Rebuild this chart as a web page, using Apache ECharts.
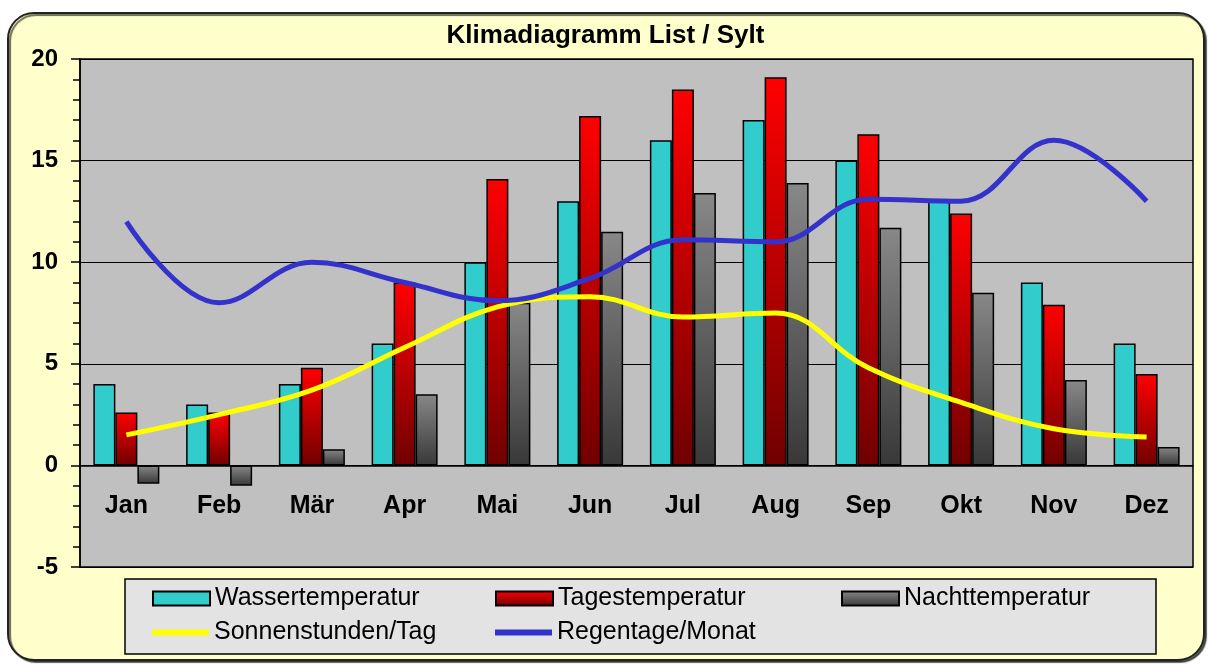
<!DOCTYPE html>
<html>
<head>
<meta charset="utf-8">
<script src="https://cdn.jsdelivr.net/npm/echarts@6/dist/echarts.min.js"></script>
<style>
  html, body { margin: 0; padding: 0; background: #fff; }
  #chart { width: 1211px; height: 665px; }
</style>
</head>
<body>
<div id="chart"></div>
<script>
var months = ['Jan', 'Feb', 'Mär', 'Apr', 'Mai', 'Jun', 'Jul', 'Aug', 'Sep', 'Okt', 'Nov', 'Dez'];
var wasser = [4, 3, 4, 6, 10, 13, 16, 17, 15, 13, 9, 6];
var tages = [2.6, 2.6, 4.8, 9, 14.1, 17.2, 18.5, 19.1, 16.3, 12.4, 7.9, 4.5];
var nacht = [-0.9, -1, 0.8, 3.5, 8, 11.5, 13.4, 13.9, 11.7, 8.5, 4.2, 0.9];
var sonne = [1.5, 2.5, 3.7, 5.8, 7.8, 8.3, 7.3, 7.5, 4.8, 3.1, 1.8, 1.4];
var regen = [12, 8, 10, 9, 8.1, 9.2, 11.1, 11, 13.1, 13, 16, 13];

var font = "'Liberation Sans', Arial, sans-serif";

var chart = echarts.init(document.getElementById('chart'));

function grad(top, bottom) {
  return new echarts.graphic.LinearGradient(0, 0, 0, 1, [
    { offset: 0, color: top },
    { offset: 1, color: bottom }
  ]);
}

// ein Legenden-Eintrag pro Komponente, damit die Spalten fest stehen
function legendItem(name, left, top, h) {
  return {
    data: [{ name: name, icon: 'rect' }],
    left: left, top: top, padding: 0,
    itemWidth: 57, itemHeight: h,
    textStyle: { fontFamily: font, fontSize: 25, color: '#000' }
  };
}

var option = {
  animation: false,
  textStyle: { fontFamily: font },
  graphic: [
    {
      type: 'rect', z: -10,
      shape: { x: 8, y: 13, width: 1196, height: 647, r: 26 },
      style: { fill: '#FFFFCC', stroke: '#222', lineWidth: 2,
        shadowColor: 'rgba(0,0,0,0.6)', shadowOffsetX: 2, shadowOffsetY: 2, shadowBlur: 1 }
    },
    {
      type: 'rect', z: -9,
      shape: { x: 125, y: 579, width: 1031, height: 75 },
      style: { fill: '#E3E3E3', stroke: '#000', lineWidth: 1.5 }
    }
  ],
  title: {
    text: 'Klimadiagramm List / Sylt',
    left: 'center',
    top: 23,
    padding: 0,
    textStyle: { fontFamily: font, fontSize: 26, fontWeight: 'bold', color: '#000' }
  },
  legend: [
    legendItem('Wassertemperatur', 152, 586, 14),
    legendItem('Tagestemperatur', 495, 586, 14),
    legendItem('Nachttemperatur', 841, 586, 14),
    legendItem('Sonnenstunden/Tag', 152, 620, 6),
    legendItem('Regentage/Monat', 495, 620, 6)
  ],
  grid: {
    left: 80, right: 18, top: 59, bottom: 98,
    show: true, backgroundColor: '#C0C0C0',
    borderColor: '#000', borderWidth: 1.5
  },
  xAxis: {
    type: 'category',
    data: months,
    offset: -101.6,
    axisLine: { onZero: true, onZeroAxisIndex: 0, lineStyle: { color: '#000', width: 1.5 } },
    axisTick: { length: 9, lineStyle: { color: '#000', width: 1.5 } },
    axisLabel: { margin: 28, fontFamily: font, fontSize: 25, fontWeight: 'bold', color: '#000' },
    splitLine: { show: false }
  },
  yAxis: {
    type: 'value',
    min: -5, max: 20, interval: 5,
    axisLine: { show: true, lineStyle: { color: '#000', width: 1.5 } },
    axisTick: { show: true, length: 9, lineStyle: { color: '#000', width: 1.5 } },
    minorTick: { show: true, splitNumber: 5, length: 7, lineStyle: { color: '#000', width: 1.5 } },
    axisLabel: { margin: 22, fontFamily: font, fontSize: 24, fontWeight: 'bold', color: '#000' },
    splitLine: { show: true, lineStyle: { color: '#000', width: 1.2 } }
  },
  series: [
    {
      name: 'Wassertemperatur', type: 'bar', data: wasser,
      barWidth: 22, barGap: '0%',
      itemStyle: { color: '#33CCCC', borderColor: '#000', borderWidth: 1.5 }
    },
    {
      name: 'Tagestemperatur', type: 'bar', data: tages,
      barWidth: 22, barGap: '0%',
      itemStyle: { color: grad('#FF0000', '#700000'), borderColor: '#000', borderWidth: 1.5 }
    },
    {
      name: 'Nachttemperatur', type: 'bar', data: nacht,
      barWidth: 22, barGap: '0%',
      itemStyle: { color: grad('#888888', '#383838'), borderColor: '#000', borderWidth: 1.5 }
    },
    {
      name: 'Sonnenstunden/Tag', type: 'line', data: sonne,
      smooth: 0.4, symbol: 'none',
      lineStyle: { color: '#FFFF00', width: 5 },
      itemStyle: { color: '#FFFF00' }
    },
    {
      name: 'Regentage/Monat', type: 'line', data: regen,
      smooth: 0.4, symbol: 'none',
      lineStyle: { color: '#3333CC', width: 5 },
      itemStyle: { color: '#3333CC' }
    }
  ]
};

chart.setOption(option);
</script>
</body>
</html>
